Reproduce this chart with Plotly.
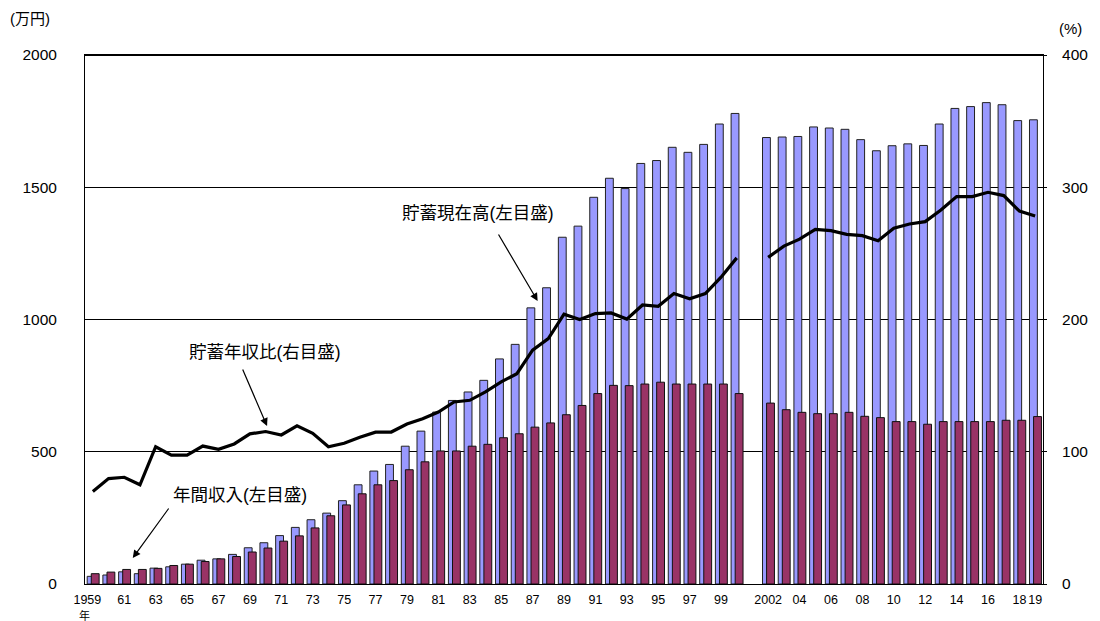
import plotly.graph_objects as go

years = list(range(1959, 2020))

savings = [29, 34, 46, 39, 60, 65, 75, 90, 95, 112,
           137, 156, 183, 214, 243, 268, 315, 375, 427, 452,
           521, 578, 650, 694, 726, 770, 851, 906, 1044, 1120,
           1311, 1353, 1462, 1534, 1495, 1590, 1601, 1651, 1632, 1662,
           1739, 1779, None, 1688, 1690, 1692, 1728, 1724, 1719, 1680,
           1638, 1657, 1664, 1658, 1739, 1798, 1805, 1820, 1812, 1752,
           1755]

income = [39, 45, 55, 55, 59, 70, 75, 85, 95, 104,
          121, 136, 162, 182, 212, 258, 299, 341, 375, 391,
          432, 462, 503, 503, 521, 528, 553, 568, 593, 609,
          640, 675, 720, 751, 750, 756, 763, 756, 756, 756,
          756, 720, None, 684, 659, 649, 644, 644, 649, 634,
          629, 614, 614, 604, 614, 614, 614, 614, 619, 619,
          633]

ratio = [70, 79.7, 80.7, 75, 103.8, 97.5, 97.5, 104.3, 101.8, 105.9,
         113.5, 115.3, 112.7, 119.6, 114, 103.8, 106.4, 111, 114.8, 114.9,
         121, 125, 130, 137.6, 138.9, 145.2, 152.8, 159, 176.8, 185.6,
         204, 200, 204.5, 205, 200.3, 211, 210, 219.6, 215.7, 219.6,
         232, 246.6, None, 247, 255.5, 260.8, 268.2, 267.2, 264.4, 263.4,
         259.6, 269, 272.2, 274, 282.8, 292.9, 292.9, 296.2, 293.7, 282,
         278.3]

tick_years = list(range(1959, 2000, 2)) + list(range(2002, 2019, 2)) + [2019]
tick_text = ["1959"] + ["%02d" % (y % 100) for y in range(1961, 2000, 2)] + \
            ["2002"] + ["%02d" % (y % 100) for y in range(2004, 2019, 2)] + ["19"]

FONT = "Arial, 'Liberation Sans', 'Noto Sans CJK JP', sans-serif"

fig = go.Figure()
fig.add_trace(go.Bar(x=years, y=savings, name="貯蓄現在高",
                     marker=dict(color="#9999FF", line=dict(color="#222222", width=1)),
                     width=0.5, offset=-0.36))
fig.add_trace(go.Bar(x=years, y=income, name="年間収入",
                     marker=dict(color="#993366", line=dict(color="#111111", width=1)),
                     width=0.5, offset=-0.1))
fig.add_trace(go.Scatter(x=years, y=ratio, yaxis="y2", mode="lines",
                         line=dict(color="black", width=3.2), connectgaps=False,
                         name="貯蓄年収比"))

# plot area in pixels
L, R, T, B = 85, 1048, 55, 584
W, H = R - L, B - T

def px(xp):
    return (xp - L) / W

def py(yp):
    return (B - yp) / H

tickpos = [1958.65] + tick_years[1:]

fig.update_layout(
    width=1100, height=621,
    margin=dict(l=L, r=1100 - R, t=T, b=621 - B),
    paper_bgcolor="white", plot_bgcolor="white",
    barmode="overlay", showlegend=False,
    font=dict(family=FONT, color="black"),
    xaxis=dict(range=[1958.5, 2019.5], tickvals=tickpos, ticktext=tick_text,
               tickangle=0, ticks="", showgrid=False, zeroline=False,
               showline=True, linecolor="black", linewidth=1, mirror=True,
               ticklabelstandoff=4,
               tickfont=dict(size=12.5, family=FONT)),
    yaxis=dict(range=[0, 2000], tickvals=[0, 500, 1000, 1500, 2000],
               showgrid=True, gridcolor="black", gridwidth=1, zeroline=False,
               showline=True, linecolor="black", linewidth=1, mirror=True,
               ticks="", ticklabelstandoff=24, tickfont=dict(size=15.5, family=FONT)),
    yaxis2=dict(range=[0, 400], tickvals=[0, 100, 200, 300, 400],
                overlaying="y", side="right", showgrid=False, zeroline=False,
                showline=False, ticks="outside", ticklen=3, tickcolor="black",
                ticklabelstandoff=12, tickfont=dict(size=15.5, family=FONT)),
)

# thicker top border
fig.add_shape(type="line", xref="paper", yref="paper", x0=0, x1=1, y0=1, y1=1,
              line=dict(color="black", width=2.2))

ann = []
# unit labels
ann.append(dict(text="(万円)", x=px(30), y=py(18), xref="paper", yref="paper",
                showarrow=False, font=dict(size=15, family=FONT), xanchor="center", yanchor="middle"))
ann.append(dict(text="(%)", x=px(1076), y=py(29), xref="paper", yref="paper",
                showarrow=False, font=dict(size=15, family=FONT), xanchor="center", yanchor="middle"))
ann.append(dict(text="年", x=px(84), y=py(615), xref="paper", yref="paper",
                showarrow=False, font=dict(size=11, family=FONT), xanchor="center", yanchor="middle"))

# callout texts
for t, cx, cy in [("貯蓄現在高(左目盛)", 480, 213),
                  ("貯蓄年収比(右目盛)", 266, 352),
                  ("年間収入(左目盛)", 241, 495)]:
    ann.append(dict(text=t, x=px(cx), y=py(cy), xref="paper", yref="paper",
                    showarrow=False, font=dict(size=17.5, family=FONT),
                    xanchor="center", yanchor="middle"))

# arrows (tail -> tip, pixel positions)
for (tx, ty, hx, hy) in [(500, 233, 540, 301),
                         (243, 368, 268, 426),
                         (170, 507, 133, 558)]:
    ann.append(dict(text="", x=px(hx), y=py(hy), xref="paper", yref="paper",
                    ax=tx - hx, ay=ty - hy, axref="pixel", ayref="pixel",
                    showarrow=True, arrowhead=2, arrowsize=1.3, arrowwidth=1.2,
                    arrowcolor="black"))

fig.update_layout(annotations=ann)

fig.write_html("out.html", config={"displayModeBar": False},
               post_script="document.body.style.margin='0';document.body.style.overflow='hidden';")
